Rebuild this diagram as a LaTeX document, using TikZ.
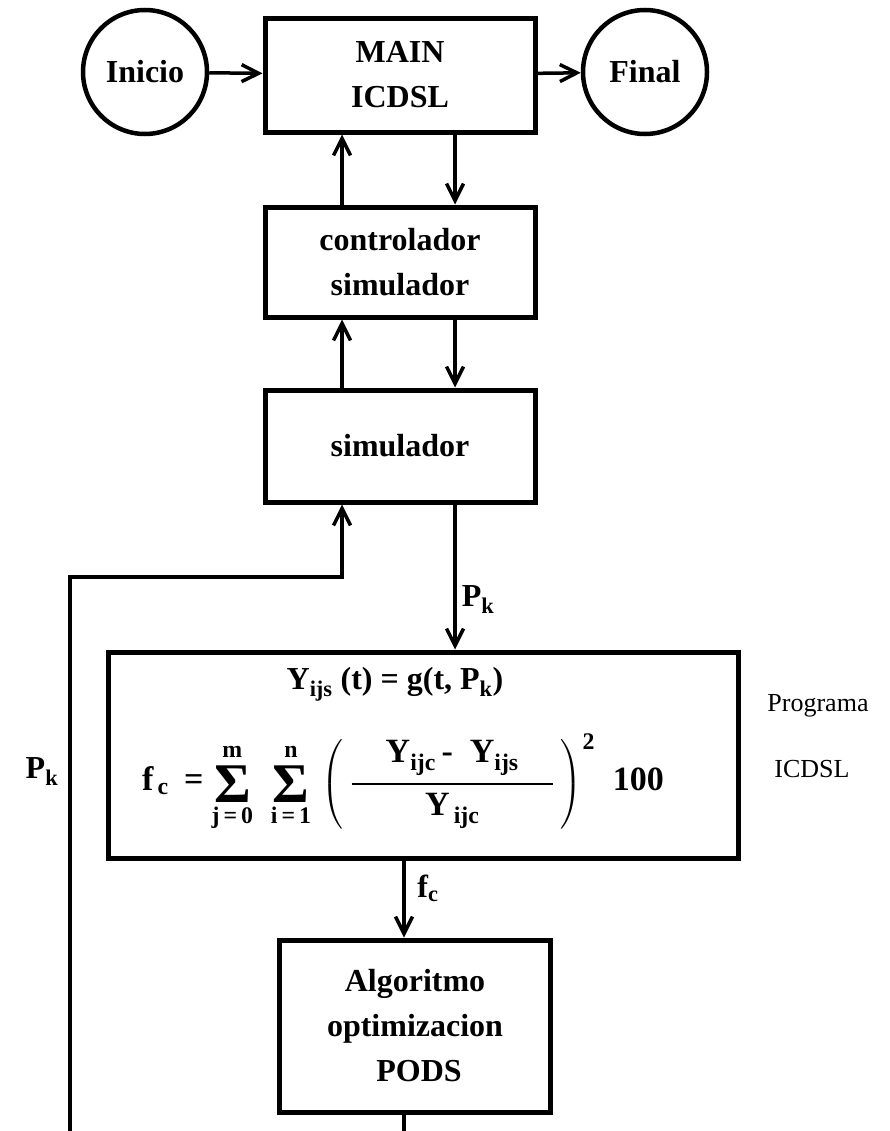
\documentclass[tikz,border=0pt]{standalone}
\usepackage{fontspec}
\setmainfont{Liberation Serif}
\usepackage{amsmath}
\usepackage{tikz}
\usetikzlibrary{arrows.meta,shapes}
\newcommand\bigsum[2]{\mathop{\vcenter{\hbox{\fontsize{56bp}{56bp}\selectfont\bfseries Σ}}}\limits_{\rule{0pt}{16bp}\text{#1}}^{\text{#2}\rule[-6bp]{0pt}{6bp}}}

\begin{document}
\begin{tikzpicture}[>={Straight Barb[length=17bp,width=17bp]},
  blk/.style={draw,line width=5bp,align=center,inner sep=0pt},
  term/.style={draw,circle,line width=4.5bp,minimum size=124bp,inner sep=0pt},
  conn/.style={->,line width=3.5bp},
  wire/.style={line width=3.5bp},
  font=\fontsize{32bp}{45bp}\selectfont\bfseries]
\useasboundingbox (0bp,0bp) rectangle (890bp,-1131bp);
\node (ini) at (145bp,-72bp)[term] {Inicio};
\node (fin) at (645bp,-72bp)[term] {Final};
\node (main) at (400bp,-75bp)[blk,minimum width=270bp,minimum height=114bp] {MAIN\\ICDSL};
\node (ctrl) at (400bp,-262bp)[blk,minimum width=270bp,minimum height=110bp] {controlador\\simulador};
\node (sim) at (400bp,-446bp)[blk,minimum width=270bp,minimum height=112bp] {simulador};
\node (fmla) at (423bp,-755bp)[blk,minimum width=630bp,minimum height=206bp] {};
\node (pods) at (415bp,-1026bp)[blk,minimum width=271bp,minimum height=172bp] {Algoritmo\\optimizacion\\\ PODS};
% formula inside the box
\node (yfun) at (395bp,-684bp) {Y\textsubscript{ijs} (t) = g(t, P\textsubscript{k})};
\node (fsum) at (403bp,-782bp)[font=\fontsize{34bp}{40bp}\selectfont\bfseries] {$\text{f}_{\,\text{c}}\ \;\text{=}\,\bigsum{j\,=\,0}{m}\;\;\bigsum{i\,=\,1}{n}\;\left(\vrule height 42bp depth 40bp width 0pt\;\genfrac{}{}{2.5bp}{0}{\quad\text{Y}_{\text{ijc}}\text{\,-}\ \ \text{Y}_{\text{ijs}}\quad}{\text{Y}_{\,\text{ijc}}}\;\right)^{\text{2}}\;\;\text{100}$};
% labels
\node (pk1) at (478bp,-600bp) {P\textsubscript{k}};
\node (fc) at (428bp,-888bp) {f\textsubscript{c}};
\node (pk2) at (42bp,-772bp) {P\textsubscript{k}};
\node (prg) at (818bp,-706bp)[font=\fontsize{26bp}{30bp}\selectfont] {Programa};
\node (prg2) at (812bp,-769bp)[font=\fontsize{26bp}{30bp}\selectfont] {ICDSL};
% connectors
\coordinate (upx) at (342bp,0bp);
\coordinate (dnx) at (455bp,0bp);
\coordinate (fcx) at (404bp,0bp);
\coordinate (turn) at (70bp,-577bp);
\coordinate (bot) at (0bp,-1131bp);
\draw [conn] (ini) -- (main);
\draw [conn] (main) -- (fin);
\draw [conn] (ctrl.north -| upx) -- (main.south -| upx);
\draw [conn] (main.south -| dnx) -- (ctrl.north -| dnx);
\draw [conn] (sim.north -| upx) -- (ctrl.south -| upx);
\draw [conn] (ctrl.south -| dnx) -- (sim.north -| dnx);
\draw [conn] (sim.south -| dnx) -- (fmla.north -| dnx);
\draw [conn] (fmla.south -| fcx) -- (pods.north -| fcx);
\draw [wire] (pods.south -| fcx) -- (bot -| fcx);
\draw [conn] (bot -| turn) -- (turn) -| (sim.south -| upx);
\end{tikzpicture}
\end{document}
